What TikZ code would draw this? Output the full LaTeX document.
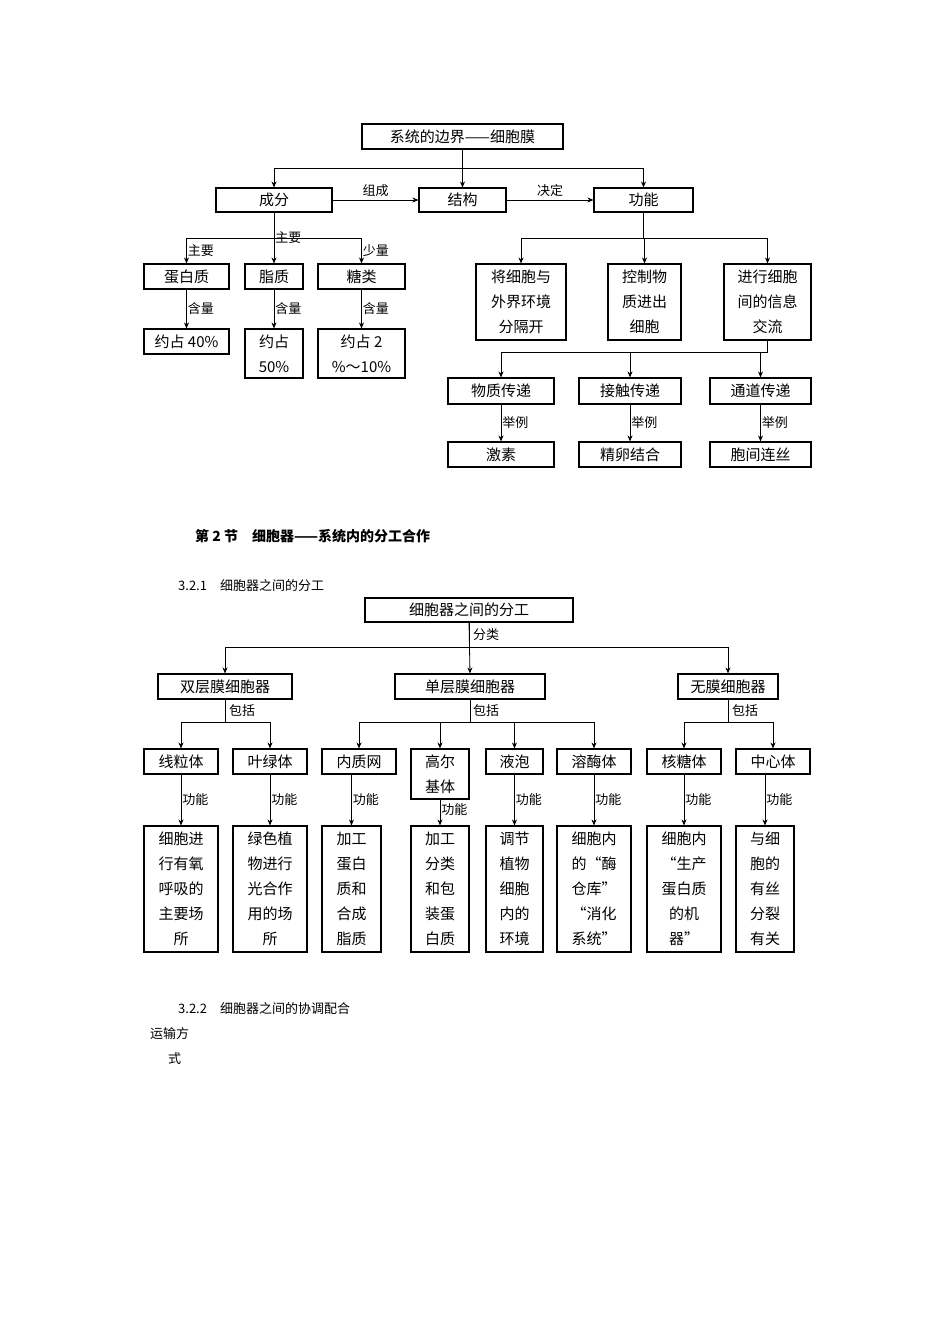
\documentclass[tikz,border=0pt]{standalone}
\usepackage{fontspec}
\setmainfont{Noto Sans CJK SC}
\usetikzlibrary{arrows.meta}
\newcommand\bx[6]{\node[box,minimum width={#4-#2},minimum height={#5-#3}] (#1) at ({(#2+#4)/2},{(#3+#5)/2}) {#6};}
\begin{document}
\begin{tikzpicture}[x=1pt,y=-1pt,
 box/.style={draw,line width=1.1pt,inner sep=0pt,align=center,font=\fontsize{15}{25}\selectfont},
 arr/.style={line width=0.8pt,-{Stealth[length=6pt,width=5pt]}},
 ln/.style={line width=0.8pt},
 lab/.style={font=\fontsize{13}{15}\selectfont,anchor=west,inner sep=1pt},
 txt/.style={font=\fontsize{13}{15}\selectfont,anchor=west,inner sep=0pt}]
\useasboundingbox[fill=white] (0,0) rectangle (950,1344);
% ---------- diagram 1
\bx{t}{362}{124}{563}{149}{系统的边界——细胞膜}
\bx{cf}{216}{188}{332}{212}{成分}
\bx{jg}{419}{188}{506}{212}{结构}
\bx{gn}{594}{188}{693}{212}{功能}
\draw[arr] (t.south) -- (t.south |- 0,168) -| (cf.north);
\draw[arr] (t.south) -- (jg.north);
\draw[arr] (t.south) -- (t.south |- 0,168) -| (gn.north);
\draw[arr] (cf) -- node[above,font=\fontsize{13}{15}\selectfont]{组成} (jg);
\draw[arr] (jg) -- node[above,font=\fontsize{13}{15}\selectfont]{决定} (gn);
\bx{db}{144}{264}{229}{289}{蛋白质}
\bx{zz}{245}{264}{303}{289}{脂质}
\bx{tl}{318}{264}{405}{289}{糖类}
\draw[arr] (cf.south) -- (cf.south |- 0,238) -| (db.north) node[lab,pos=0.75]{主要};
\draw[arr] (cf.south) -- (zz.north) node[lab,pos=0.5]{主要};
\draw[arr] (cf.south) -- (cf.south |- 0,238) -| (tl.north) node[lab,pos=0.75]{少量};
\bx{p1}{144}{329}{229}{354}{约占 40\%}
\bx{p2}{245}{329}{303}{378}{约占\\50\%}
\bx{p3}{318}{329}{405}{378}{约占 2\\\%～10\%}
\draw[arr] (db) -- node[lab]{含量} (db.south |- p1.north);
\draw[arr] (zz) -- node[lab]{含量} (p2);
\draw[arr] (tl) -- node[lab]{含量} (p3);
\bx{f1}{476}{264}{566}{340}{将细胞与\\外界环境\\分隔开}
\bx{f2}{608}{264}{681}{340}{控制物\\质进出\\细胞}
\bx{f3}{724}{264}{811}{340}{进行细胞\\间的信息\\交流}
\draw[arr] (gn.south) -- (gn.south |- 0,238) -| (f1.north);
\draw[arr] (gn.south) -- (gn.south |- 0,238) -| (f2.north);
\draw[arr] (gn.south) -- (gn.south |- 0,238) -| (f3.north);
\bx{c1}{448}{378}{554}{404}{物质传递}
\bx{c2}{579}{378}{681}{404}{接触传递}
\bx{c3}{710}{378}{811}{404}{通道传递}
\draw[arr] (f3.south) -- (f3.south |- 0,352) -| (c1.north);
\draw[arr] (f3.south) -- (f3.south |- 0,352) -| (c2.north);
\draw[arr] (f3.south) -- (f3.south |- 0,352) -| (c3.north);
\bx{e1}{448}{442}{554}{467}{激素}
\bx{e2}{579}{442}{681}{467}{精卵结合}
\bx{e3}{710}{442}{811}{467}{胞间连丝}
\draw[arr] (c1) -- node[lab]{举例} (e1);
\draw[arr] (c2) -- node[lab]{举例} (e2);
\draw[arr] (c3) -- node[lab]{举例} (e3);
% ---------- texts
\node[txt,font=\bfseries\fontsize{14}{16}\selectfont] (sec) at (195,536) {第 2 节\quad 细胞器——系统内的分工合作};
\node[txt] (s1) at (178,586) {3.2.1\quad 细胞器之间的分工};
\node[txt] (s2) at (178,1009) {3.2.2\quad 细胞器之间的协调配合};
\node[txt] (ys) at (150,1034) {运输方};
\node[txt] (ys2) at (168,1059) {式};
% ---------- diagram 2
\bx{T}{365}{598}{573}{622}{细胞器之间的分工}
\bx{A}{158}{674}{292}{699}{双层膜细胞器}
\bx{B}{395}{674}{545}{699}{单层膜细胞器}
\bx{C}{678}{674}{778}{699}{无膜细胞器}
\node[lab] (fl) at (472,635) {分类};
\draw[arr] (T.south) -- (T.south |- 0,647) -| (A.north);
\draw[arr] (T.south) -- (B.north);
\draw[arr] (T.south) -- (T.south |- 0,647) -| (C.north);
\node[lab] (l1) at (228,711) {包括};
\node[lab] (l2) at (472,711) {包括};
\node[lab] (l3) at (731,711) {包括};
\bx{o1}{144}{749}{218}{774}{线粒体}
\bx{o2}{233}{749}{307}{774}{叶绿体}
\bx{o3}{322}{749}{396}{774}{内质网}
\bx{o4}{411}{749}{469}{799}{高尔\\基体}
\bx{o5}{486}{749}{543}{774}{液泡}
\bx{o6}{557}{749}{631}{774}{溶酶体}
\bx{o7}{647}{749}{721}{774}{核糖体}
\bx{o8}{736}{749}{810}{774}{中心体}
\foreach \p/\c in {A/o1,A/o2,B/o3,B/o4,B/o5,B/o6,C/o7,C/o8}
  \draw[arr] (\p.south) -- (\p.south |- 0,722) -| (\c.north);
\bx{g1}{144}{826}{218}{952}{细胞进\\行有氧\\呼吸的\\主要场\\所}
\bx{g2}{233}{826}{307}{952}{绿色植\\物进行\\光合作\\用的场\\所}
\bx{g3}{322}{826}{381}{952}{加工\\蛋白\\质和\\合成\\脂质}
\bx{g4}{411}{826}{469}{952}{加工\\分类\\和包\\装蛋\\白质}
\bx{g5}{486}{826}{543}{952}{调节\\植物\\细胞\\内的\\环境}
\bx{g6}{557}{826}{631}{952}{细胞内\\的“酶\\仓库”\\“消化\\系统”}
\bx{g7}{647}{826}{721}{952}{细胞内\\“生产\\蛋白质\\的机\\器”}
\bx{g8}{736}{826}{794}{952}{与细\\胞的\\有丝\\分裂\\有关}
\foreach \o/\g in {o1/g1,o2/g2,o3/g3,o5/g5,o6/g6,o7/g7,o8/g8}
  \draw[arr] (\o.south -| \g.north) -- node[lab]{功能} (\g.north);
\draw[arr] (o4) -- node[lab,pos=0.4]{功能} (g4);
\end{tikzpicture}
\end{document}
